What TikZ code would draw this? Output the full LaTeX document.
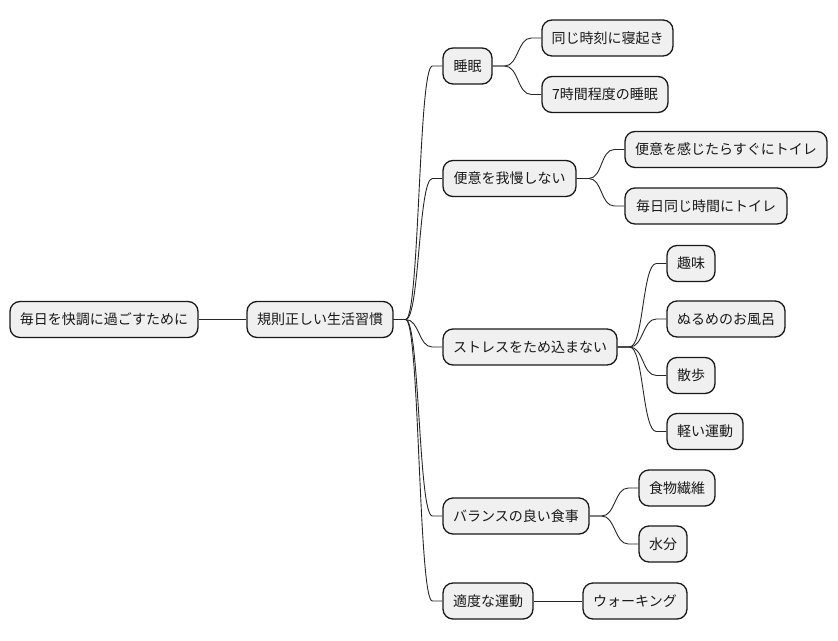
\documentclass[tikz,border=0pt]{standalone}
\usepackage{fontspec}
\usetikzlibrary{calc}
\setmainfont{Noto Sans CJK JP}
\begin{document}
\begin{tikzpicture}[x=1pt,y=-1pt,
  mm/.style={draw=black!90, line width=1.3pt, fill=black!6, rounded corners=10pt,
    minimum height=36pt, inner sep=0pt, font=\fontsize{14pt}{16pt}\selectfont, text=black!90},
  link/.style={line width=0.9pt, draw=black!85}]
\useasboundingbox (0,0) rectangle (838,640);
\newcommand{\mmnode}[5]{\node[mm, minimum width=#4pt] (#1) at (#2,#3) {#5};}
\mmnode{root}{104}{319.5}{188}{毎日を快調に過ごすために}
\mmnode{r1}{320}{319.5}{146}{規則正しい生活習慣}
\mmnode{a}{467.5}{66}{49}{睡眠}
\mmnode{b}{509.5}{178.5}{133}{便意を我慢しない}
\mmnode{c}{530}{347}{174}{ストレスをため込まない}
\mmnode{d}{516}{516}{146}{バランスの良い食事}
\mmnode{e}{488}{601}{90}{適度な運動}
\mmnode{a1}{607.5}{38}{131}{同じ時刻に寝起き}
\mmnode{a2}{605}{94.5}{126}{7時間程度の睡眠}
\mmnode{b1}{726}{149.5}{202}{便意を感じたらすぐにトイレ}
\mmnode{b2}{706}{206}{162}{毎日同じ時間にトイレ}
\mmnode{c1}{691}{263.5}{48}{趣味}
\mmnode{c2}{726}{319}{118}{ぬるめのお風呂}
\mmnode{c3}{691}{375.5}{48}{散歩}
\mmnode{c4}{705}{431.5}{76}{軽い運動}
\mmnode{d1}{677}{488}{76}{食物繊維}
\mmnode{d2}{663}{544}{48}{水分}
\mmnode{e1}{635}{601}{104}{ウォーキング}
\newcommand{\mmlink}[2]{\draw[link] (#1.east) -- ++(12,0) .. controls +(14,0) and ($(#2.west)+(-24,0)$) .. ($(#2.west)+(-10,0)$) -- (#2.west);}
\draw[link] (root.east) -- (r1.west);
\mmlink{r1}{a}
\mmlink{r1}{b}
\mmlink{r1}{c}
\mmlink{r1}{d}
\mmlink{r1}{e}
\mmlink{a}{a1}
\mmlink{a}{a2}
\mmlink{b}{b1}
\mmlink{b}{b2}
\mmlink{c}{c1}
\mmlink{c}{c2}
\mmlink{c}{c3}
\mmlink{c}{c4}
\mmlink{d}{d1}
\mmlink{d}{d2}
\draw[link] (e.east) -- (e1.west);
\end{tikzpicture}
\end{document}
